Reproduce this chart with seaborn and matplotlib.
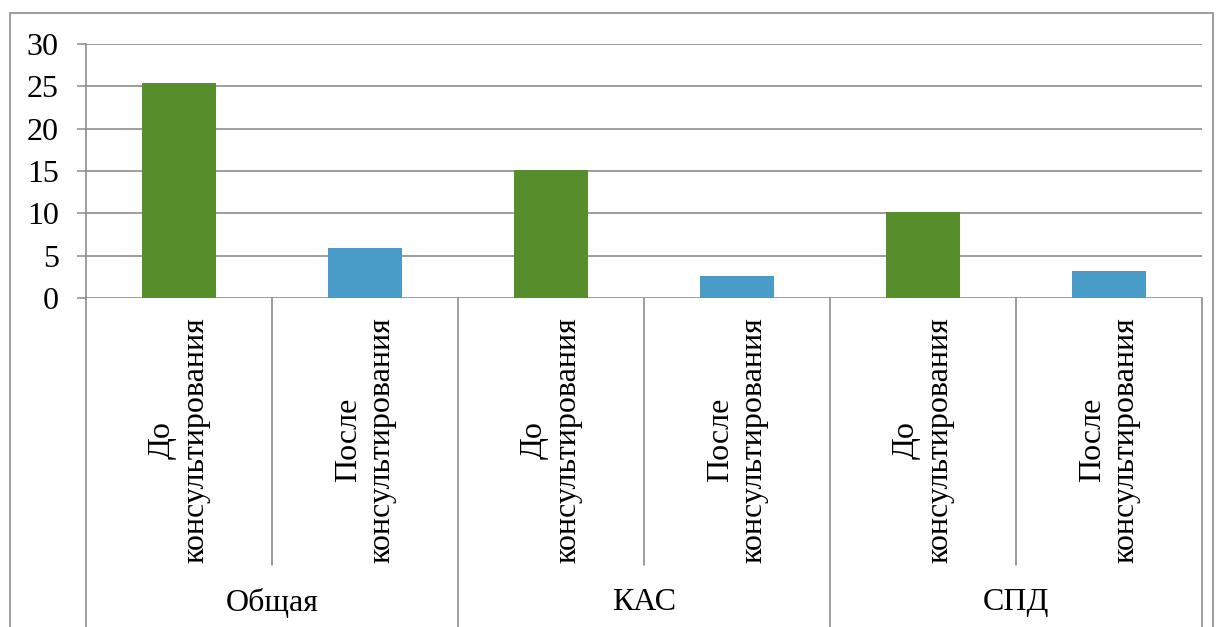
import pandas as pd
import seaborn as sns
import matplotlib.pyplot as plt
from matplotlib.patches import Rectangle
from matplotlib.transforms import blended_transform_factory

# chart data
groups = ["Общая", "КАС", "СПД"]
stages = ["До\nконсультирования", "После\nконсультирования"]
before = [25.4, 15.1, 10.2]
after = [5.9, 2.6, 3.2]
y_ticks = [0, 5, 10, 15, 20, 25, 30]

rows = []
for g, b, a in zip(groups, before, after):
    rows.append({"key": g + "|0", "group": g, "stage": stages[0], "value": b})
    rows.append({"key": g + "|1", "group": g, "stage": stages[1], "value": a})
data = pd.DataFrame(rows)

sns.set_style("white")
plt.rcParams['font.family'] = ['Liberation Serif', 'DejaVu Serif']
plt.rcParams['text.color'] = 'black'
plt.rcParams['ytick.labelcolor'] = 'black'
grid_col = "#8C8C8C"

fig = plt.figure(figsize=(12.2, 6.27), dpi=100)
ax = fig.add_axes([86 / 1220, 1 - 298 / 627, 1116 / 1220, 254 / 627])

sns.barplot(data=data, x="key", y="value", hue="stage", dodge=False, width=0.4,
            palette={stages[0]: "#558E2B", stages[1]: "#4A9CC8"},
            legend=False, ax=ax, saturation=1, linewidth=0)

ax.set_ylim(0, 30)
ax.set_xlim(-0.5, len(data) - 0.5)
ax.set_yticks(y_ticks)
ax.set_yticklabels([str(t) for t in y_ticks], fontsize=23, color="black")
ax.tick_params(axis="y", length=6.5, width=1.1, color=grid_col, pad=13, left=True)
ax.set_xticks([])
ax.set_xlabel("")
ax.set_ylabel("")
ax.yaxis.grid(True, color=grid_col, linewidth=1.2)
ax.set_axisbelow(True)
for s in ["top", "right", "bottom"]:
    ax.spines[s].set_visible(False)
ax.spines["left"].set_color(grid_col)
ax.spines["left"].set_linewidth(1.2)

# multi-level category axis
tr = blended_transform_factory(ax.transData, ax.transAxes)
n = len(data)
for i in range(n):
    ax.text(i, -0.56, data["stage"][i], rotation=90, ha="center", va="center",
            multialignment="center", fontsize=23, transform=tr, linespacing=1.2,
            color="black")
for i in range(n + 1):
    x = i - 0.5
    y_end = -1.4 if i % 2 == 0 else -1.05
    ax.plot([x, x], [0, y_end], color=grid_col, lw=1.2, transform=tr, clip_on=False)
for k, g in enumerate(groups):
    ax.text(2 * k + 0.5, -1.2, g, ha="center", va="center", fontsize=23,
            transform=tr, color="black")

# outer frame
fig.patches.append(Rectangle((10 / 1220, -0.05), 1203 / 1220, 1 - 13 / 627 + 0.05,
                             transform=fig.transFigure, fill=False,
                             edgecolor=grid_col, lw=1.2))

fig.savefig("out.png", dpi=100, facecolor="white")
